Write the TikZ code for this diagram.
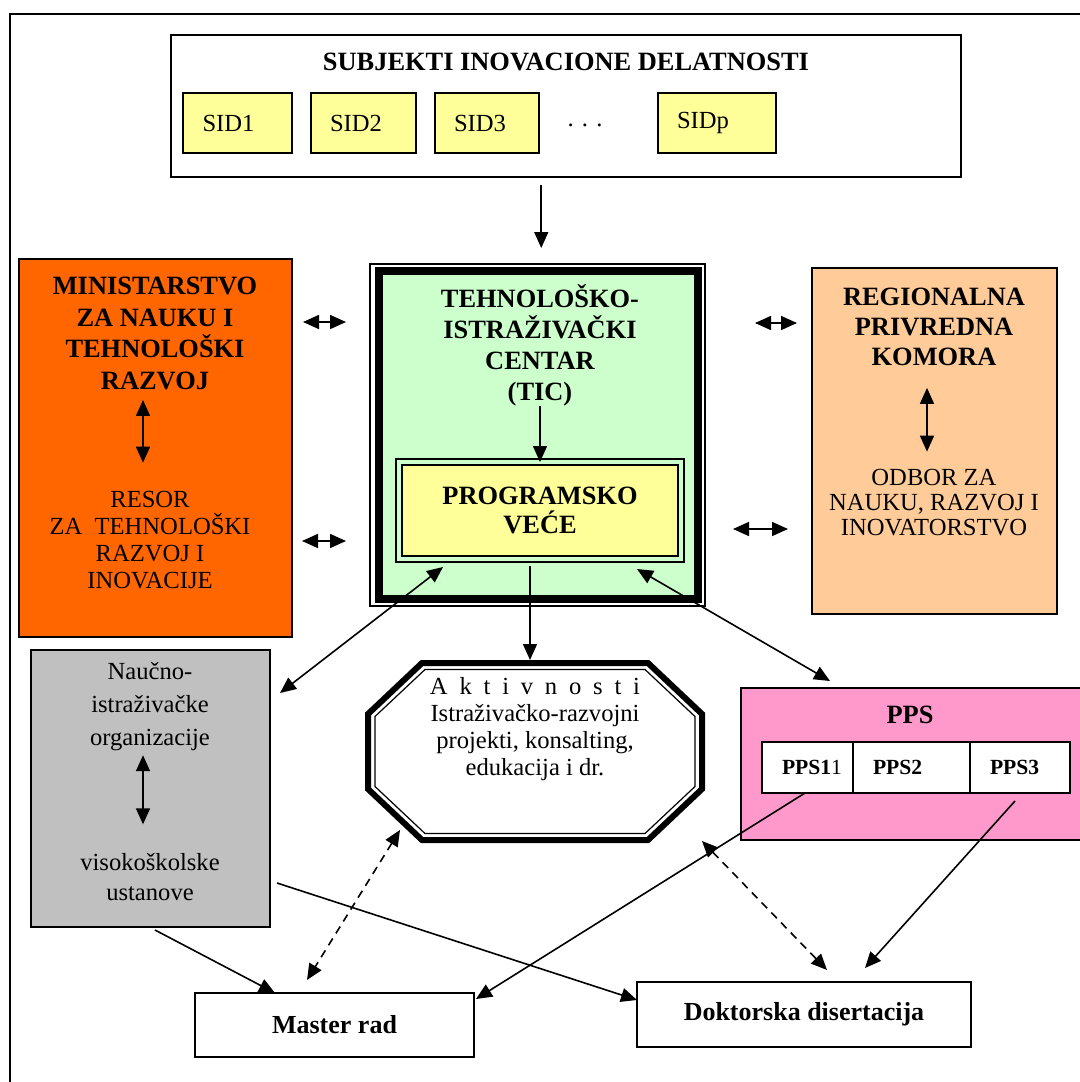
\documentclass[tikz,border=0pt]{standalone}
\usepackage{fontspec}
\setmainfont{Liberation Serif}
\usetikzlibrary{arrows.meta,calc}
\definecolor{cyel}{HTML}{FFFF99}
\definecolor{cgreen}{HTML}{CCFFCC}
\definecolor{corange}{HTML}{FF6600}
\definecolor{cpeach}{HTML}{FFCC99}
\definecolor{cgray}{HTML}{C0C0C0}
\definecolor{cpink}{HTML}{FF99CC}
\newcommand\hbf[1]{\fontsize{13.2}{#1}\selectfont\bfseries}
\newcommand\hnf[1]{\fontsize{12.3}{#1}\selectfont}
\begin{document}
\begin{tikzpicture}[x=0.5pt,y=-0.5pt,
  box/.style={draw, line width=0.6pt, outer sep=0pt, inner sep=0pt},
  txt/.style={inner sep=0pt, outer sep=0pt, align=center},
  sidbox/.style={box, fill=cyel, minimum height=30pt, inner xsep=9.5pt, font=\hnf{14}},
  cellbox/.style={box, fill=white, minimum height=25.5pt, inner xsep=10pt, font=\fontsize{10.8}{13}\selectfont\bfseries},
  conn/.style={line width=0.8pt, -{Triangle[length=8pt,width=7pt]}},
  dconn/.style={line width=0.8pt, {Triangle[length=8pt,width=7pt]}-{Triangle[length=8pt,width=7pt]}},
  dashconn/.style={dconn, dash pattern=on 4pt off 3pt},
]
\useasboundingbox (0,0) rectangle (1080,1082);
\clip (0,0) rectangle (1080,1082);
\fill[white] (0,0) rectangle (1080,1082);
% outer frame
\draw[line width=1.3pt] (10,14) rectangle (1100,1100);

% top box
\node[box, line width=1pt, minimum width=395pt, minimum height=71pt] (subj) at (566,106) {};
\node[txt, font=\hbf{16}] (subjt) at (566,62) {SUBJEKTI INOVACIONE DELATNOSTI};
\node[sidbox, minimum width=54.5pt] (sid1) at (237.5,123) {\makebox[35pt][l]{SID1}};
\node[sidbox, minimum width=52.5pt] (sid2) at (363.5,123) {\makebox[33.5pt][l]{SID2}};
\node[sidbox, minimum width=52pt] (sid3) at (487,123) {\makebox[33pt][l]{SID3}};
\node[txt, font=\hnf{14}] (dots) at (585,125) {. . .};
\node[sidbox, minimum width=59pt] (sidp) at (717,123) {\makebox[40pt][l]{SIDp}};

% TIC
\node[draw, line width=4pt, fill=cgreen, outer sep=0pt, inner sep=0pt, minimum width=159.25pt, minimum height=164pt] (tic) at (538.25,435) {};
\draw[line width=0.6pt] ($(tic.north west)+(-9,-7)$) rectangle ($(tic.south east)+(7.5,7)$);
\node[txt, font=\hbf{15.5}] (tictext) at (540,345) {TEHNOLOŠKO-\\ISTRAŽIVAČKI\\CENTAR\\(TIC)};
\node[draw, line width=1.3pt, fill=cyel, outer sep=0pt, inner sep=0pt, minimum width=138pt, minimum height=45.5pt, align=center, font=\hbf{14.5}] (prog) at (540,510.5) {PROGRAMSKO\\VEĆE};
\draw[line width=0.6pt] ($(prog.north west)+(-6,-6)$) rectangle ($(prog.south east)+(6,6)$);

% Ministry
\node[box, fill=corange, minimum width=136.5pt, minimum height=189pt] (mini) at (155.5,448) {};
\node[txt, font=\hbf{15.85}] (minT) at (155,333.5) {MINISTARSTVO\\ZA NAUKU I\\TEHNOLOŠKI\\RAZVOJ};
\node[txt, font=\hnf{13.5}] (minR) at (150,540.5) {RESOR\\ZA\ \ TEHNOLOŠKI\\RAZVOJ I\\INOVACIJE};

% Regional
\node[box, fill=cpeach, minimum width=122.5pt, minimum height=173pt] (reg) at (934.5,441) {};
\node[txt, font=\hbf{15}] (regT) at (934,327) {REGIONALNA\\PRIVREDNA\\KOMORA};
\node[txt, font=\hnf{12.5}] (regR) at (934,503) {ODBOR ZA\\NAUKU, RAZVOJ I\\INOVATORSTVO};

% Gray
\node[box, fill=cgray, minimum width=119.5pt, minimum height=138.5pt] (gray) at (150.5,788.5) {};
\node[txt, font=\hnf{16.5}] (gT) at (150,707) {Naučno-\\istraživačke\\organizacije};
\node[txt, font=\hnf{15}] (gB) at (150,877) {visokoškolske\\ustanove};

% Aktivnosti octagon
\node[inner sep=0pt, outer sep=0pt, minimum width=170pt, minimum height=91.5pt] (akt) at (535,751.5) {};
\begin{scope}[shift={(akt.center)}]
\draw[line width=3pt, fill=white, line join=miter] (-113,-88.5) -- (113,-88.5) -- (167,-37.5) -- (167,37.5) -- (113,88.5) -- (-113,88.5) -- (-167,37.5) -- (-167,-37.5) -- cycle;
\draw[line width=0.6pt] (-110,-82) -- (110,-82) -- (160,-35) -- (160,35) -- (110,82) -- (-110,82) -- (-160,35) -- (-160,-35) -- cycle;
\end{scope}
\node[txt, font=\hnf{13.4}] (akttext) at (535,729) {{\spaceskip=5.9pt A k t i v n o s t i}\\Istraživačko-razvojni\\projekti, konsalting,\\edukacija i dr.};

% PPS
\node[box, fill=cpink, minimum width=172.5pt, minimum height=76pt] (pps) at (913.5,764) {};
\node[txt, font=\hbf{15}] (ppsT) at (910,715) {PPS};
\node[cellbox, minimum width=45.5pt] (p1) at (807.5,767.5) {\makebox[25.5pt][l]{PPS1\mdseries 1}};
\node[cellbox, minimum width=58.5pt] (p2) at (911.5,767.5) {\makebox[38.5pt][l]{PPS2}};
\node[cellbox, minimum width=50pt] (p3) at (1020,767.5) {\makebox[30pt][l]{PPS3}};

% bottom boxes
\node[box, line width=1pt, minimum width=139.5pt, minimum height=32pt, font=\fontsize{13}{15}\selectfont\bfseries] (master) at (334.5,1025) {Master rad};
\node[box, line width=1pt, minimum width=167pt, minimum height=32.5pt, font=\fontsize{13}{15}\selectfont\bfseries] (dok) at (804,1014.5) {Doktorska disertacija};

% connectors
\draw[conn] ($(tic.north |- subj.south)+(3,8)$) -- ($(tic.north)+(3,-23)$);
\draw[conn] (tictext.south) -- ($(prog.north)+(0,-3)$);
\draw[conn] ($(prog.south)+(-10,10)$) -- ($(prog.south |- akt.north)+(-10,0)$);

\draw[dconn] ($(mini.east)+(11,-126)$) -- ($(tic.west)+(-33,-113)$);
\draw[dconn] ($(mini.east)+(10,93)$) -- ($(tic.west)+(-33,106)$);
\draw[dconn] ($(tic.east)+(57.5,-112)$) -- ($(reg.west)+(-15,-118)$);
\draw[dconn] ($(tic.east)+(35.5,94)$) -- ($(reg.west)+(-24,88)$);

\draw[dconn] ($(minT.south)+(-12,10)$) -- ($(minR.north)+(-7,-29)$);
\draw[dconn] ($(regT.south)+(-7,22)$) -- ($(regR.north)+(-7,-18)$);
\draw[dconn] ($(gT.south)+(-7,4)$) -- ($(gB.north)+(-7,-29)$);

\draw[dconn] ($(prog.south west)+(41,11)$) -- ($(gray.north east)+(10,43)$);
\draw[dconn] ($(prog.south east)+(-41,13)$) -- ($(pps.north)+(-83.5,-7)$);

\draw[conn] ($(gray.south)+(4.5,3)$) -- ($(master.north)+(-59.5,0)$);
\draw[conn] ($(gray.east)+(7,94.5)$) -- ($(dok.west)+(0,-14.5)$);
\draw[dashconn] ($(akt.south west)+(35,-13)$) -- ($(master.north)+(-27.5,-13)$);
\draw[dashconn] ($(akt.south east)+(-3,-2)$) -- ($(dok.north)+(23,-12)$);
\draw[conn] ($(p1.south)+(-2.5,0)$) -- ($(master.east)+(2,-26)$);
\draw[conn] ($(p3.south)+(-5,8)$) -- ($(dok.north)+(61,-14)$);
\end{tikzpicture}
\end{document}
